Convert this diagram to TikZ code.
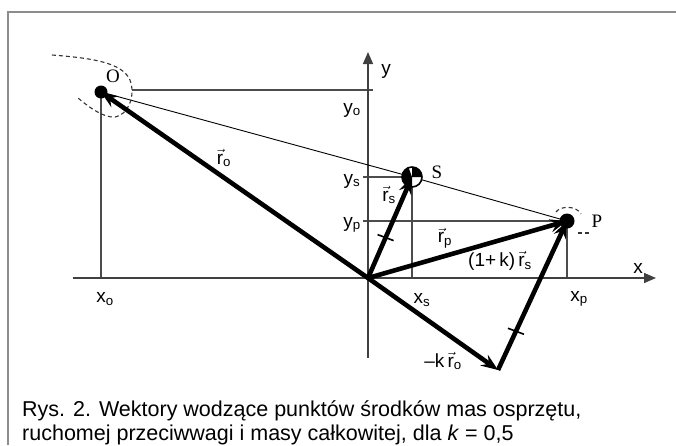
\documentclass[tikz,border=0pt]{standalone}
\usepackage{fontspec}
\setmainfont{Liberation Sans}
\newfontfamily\serifont{Liberation Serif}
\usetikzlibrary{arrows.meta}
\newcommand{\vr}[1]{$\vec{\mathrm{r}}$\textsubscript{#1}}
\begin{document}
\begin{tikzpicture}[x=1pt,y=-1pt,
  frameline/.style={draw=black!45,line width=1.2pt},
  axisline/.style={draw=black!75,line width=1.4pt},
  helper/.style={draw=black!70,line width=1.1pt},
  thin/.style={draw=black,line width=0.9pt},
  vecline/.style={draw=black,line width=4.6pt,-{Stealth[length=17pt,width=13pt,inset=6pt]}},
  dashcurve/.style={draw=black!80,line width=1.1pt,dash pattern=on 4pt off 3pt},
  lab/.style={font=\fontsize{19}{21}\selectfont,inner sep=0pt},
  ptlab/.style={font=\serifont\fontsize{19}{21}\selectfont,inner sep=0pt},
  caption/.style={anchor=base west,inner sep=0pt,font=\fontsize{21.5}{24}\selectfont},
  tick/.style={draw=black,line width=1.6pt}]
\useasboundingbox (0,0) rectangle (676,445);
% frame
\draw[frameline] (8,445) -- (8,12) -- (676,12);
% points
\coordinate (Or) at (368,278);
\coordinate (O) at (101,92);
\coordinate (S) at (412,177);
\coordinate (P) at (567,221);
\coordinate (Q) at (498,370);
\coordinate (xl) at (73,278);
\coordinate (xr) at (656,278);
\coordinate (yb) at (368,358);
\coordinate (yt) at (368,52);
% helper lines
\draw[helper] (O) -- (O |- Or);
\draw[helper] (132,90) -- (373,90);
\draw[helper] (363,177) -- (S) -- (S |- Or);
\draw[helper] (363,221) -- (P) -- (P |- Or);
% axes
\draw[axisline,-{Triangle[length=12pt,width=10pt]}] (xl) -- (xr);
\draw[axisline,-{Triangle[length=12pt,width=10pt]}] (yb) -- (yt);
% thin line O-S-P
\draw[thin] (O) -- (S) -- (P);
% dashed curves
\draw[dashcurve] (52,55) .. controls (90,58) and (122,62) .. (130,80)
  .. controls (136,96) and (128,115) .. (115,117)
  .. controls (104,118) and (90,108) .. (78,98);
\draw[dashcurve] (556,212) .. controls (560,206) and (576,205) .. (581,214);
\draw[dashcurve] (578,233) -- (591,233);
% vectors
\draw[vecline] (Or) -- (O);
\draw[vecline] (Or) -- (S);
\draw[vecline] (Or) -- (P);
\draw[vecline] (Or) -- (Q);
\draw[vecline] (Q) -- (P);
% ticks
\path (Or) -- (S) coordinate[pos=0.4] (t1);
\draw[tick] ([shift={(-8,-3)}]t1) -- ([shift={(8,3)}]t1);
\path (Q) -- (P) coordinate[pos=0.26] (t2);
\draw[tick] ([shift={(-8,-3)}]t2) -- ([shift={(8,3)}]t2);
% dots
\fill[black] (O) circle (6.5);
\fill[black] (P) circle (7.5);
\node[circle,draw=black,line width=1.6pt,fill=white,minimum size=20pt,inner sep=0pt] (Sc) at (S) {};
\fill[black] (S) -- ++(-10,0) arc (180:90:10) -- cycle;
\fill[black] (S) -- ++(10,0) arc (0:-90:10) -- cycle;
\fill[black] (S) -- ++(-10,0) arc (180:250:10) -- cycle;
% point labels
\node[ptlab] (Ol) at (113,76) {O};
\node[ptlab] (Sl) at (437,172) {S};
\node[ptlab] (Pl) at (597,221) {P};
% axis labels
\node[lab] (ylab) at (386,71) {y};
\node[lab] (xlab) at (638,268) {x};
\node[lab] (yo) at (352,110) {y\textsubscript{o}};
\node[lab] (ys) at (352,181) {y\textsubscript{s}};
\node[lab] (yp) at (352,225) {y\textsubscript{p}};
\node[lab] (xo) at (105,299) {x\textsubscript{o}};
\node[lab] (xs) at (422,300) {x\textsubscript{s}};
\node[lab] (xp) at (579,299) {x\textsubscript{p}};
% vector labels
\node[lab] (ro) at (224,158) {\vr{o}};
\node[lab] (rs) at (389,195) {\vr{s}};
\node[lab] (rp) at (445,238) {\vr{p}};
\node[lab] (rk) at (500,261) {(1+\,k)\,\vr{s}};
\node[lab] (mk) at (443,361) {–k\,\vr{o}};
% caption
\node[caption] (cap1) at (22,416.7) {Rys. 2. Wektory wodzące punktów środków mas osprzętu,};
\node[caption] (cap2) at (22,440.7) {ruchomej przeciwwagi i masy całkowitej, dla \textit{k} = 0,5};
\end{tikzpicture}
\end{document}
